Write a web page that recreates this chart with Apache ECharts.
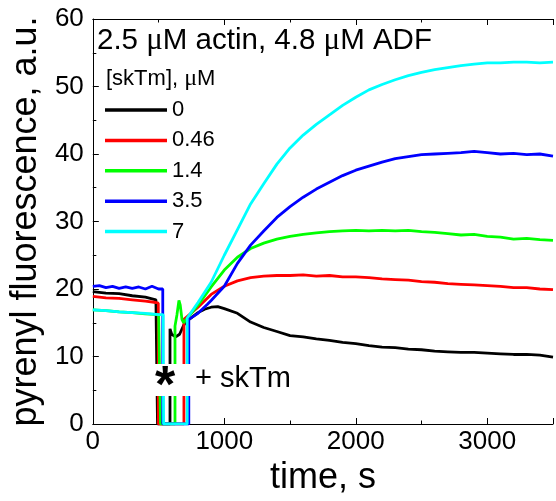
<!DOCTYPE html>
<html>
<head>
<meta charset="utf-8">
<script src="https://cdn.jsdelivr.net/npm/echarts@6/dist/echarts.min.js"></script>
<style>html,body{margin:0;padding:0;background:#fff;}#c{width:556px;height:501px;}</style>
</head>
<body>
<div id="c"></div>
<script>
// legend labels
const seriesNames = ['0', '0.46', '1.4', '3.5', '7'];
const seriesColors = ['#000000', '#ff0000', '#00ff00', '#0000ff', '#00ffff'];

// [time (s), fluorescence (a.u.)]
const data0 = [[0,19.6],[100,19.4],[200,19.3],[300,19.0],[400,18.8],[480,18.4],[492,18.3],[492,0],[587,0],[587,14.1],[600,13.3],[630,12.9],[660,13.3],[690,14.6],[720,15.3],[800,16.5],[850,17.0],[900,17.3],[950,17.4],[1000,17.1],[1100,16.4],[1200,15.1],[1300,14.3],[1400,13.7],[1500,13.1],[1600,12.9],[1700,12.6],[1800,12.4],[1900,12.1],[2000,11.9],[2100,11.6],[2200,11.4],[2300,11.3],[2400,11.1],[2500,11.0],[2600,10.8],[2700,10.7],[2800,10.6],[2900,10.6],[3000,10.5],[3100,10.4],[3200,10.3],[3300,10.3],[3400,10.2],[3500,9.9]];
const data046 = [[0,18.9],[100,18.7],[200,18.6],[300,18.4],[400,18.2],[480,18.0],[498,17.9],[498,0],[693,0],[693,15.5],[700,15.6],[800,17.3],[900,19.2],[1000,20.4],[1100,21.2],[1200,21.7],[1300,21.9],[1400,22.0],[1500,22.0],[1600,22.1],[1700,21.9],[1800,22.0],[1900,21.8],[2000,21.8],[2100,21.7],[2200,21.5],[2300,21.4],[2400,21.3],[2500,21.1],[2600,21.0],[2700,20.8],[2800,20.7],[2900,20.6],[3000,20.5],[3100,20.4],[3200,20.2],[3300,20.2],[3400,20.0],[3500,19.9]];
const data14 = [[0,16.9],[100,16.8],[200,16.6],[300,16.5],[400,16.3],[500,16.2],[515,16.1],[515,0],[625,0],[625,14.5],[640,16.2],[655,18.3],[665,17.6],[678,15.5],[690,15.0],[700,15.2],[800,17.6],[900,20.3],[1000,22.8],[1100,24.7],[1200,26.0],[1300,26.8],[1400,27.4],[1500,27.8],[1600,28.1],[1700,28.3],[1800,28.5],[1900,28.6],[2000,28.7],[2100,28.6],[2200,28.7],[2300,28.6],[2400,28.7],[2500,28.5],[2600,28.4],[2700,28.2],[2800,28.0],[2900,28.1],[3000,27.8],[3100,27.7],[3200,27.4],[3300,27.5],[3400,27.3],[3500,27.2]];
const data35 = [[0,20.4],[50,20.5],[100,20.2],[150,20.4],[200,20.1],[250,20.3],[300,20.1],[350,20.3],[400,20.0],[450,20.4],[500,20.0],[532,20.0],[532,0],[730,0],[730,15.5],[800,16.4],[870,17.7],[900,18.3],[1000,20.4],[1100,23.8],[1200,26.5],[1300,28.6],[1400,30.6],[1500,32.2],[1600,33.6],[1700,34.8],[1800,35.8],[1900,36.8],[2000,37.6],[2100,38.2],[2200,38.8],[2300,39.3],[2400,39.6],[2500,39.9],[2600,40.0],[2700,40.1],[2800,40.2],[2900,40.4],[3000,40.2],[3100,40.0],[3200,40.1],[3300,39.9],[3400,40.0],[3500,39.7]];
const data7 = [[0,16.9],[100,16.8],[200,16.6],[300,16.5],[400,16.4],[500,16.2],[535,16.2],[538,0],[718,0],[718,15.7],[800,18.0],[900,21.0],[1000,25.0],[1100,28.8],[1200,32.6],[1300,35.6],[1400,38.5],[1500,40.9],[1600,42.8],[1700,44.4],[1800,45.8],[1900,47.2],[2000,48.4],[2100,49.5],[2200,50.3],[2300,51.0],[2400,51.6],[2500,52.1],[2600,52.5],[2700,52.8],[2800,53.1],[2900,53.3],[3000,53.5],[3100,53.5],[3200,53.6],[3300,53.6],[3400,53.5],[3500,53.6]];
const allData = [data0, data046, data14, data35, data7];

const xTicks = [0, 1000, 2000, 3000];

const FONT = '"Liberation Sans", Arial, sans-serif';
const chart = echarts.init(document.getElementById('c'), null, {renderer: 'canvas'});

const axisCommon = {
  axisLine: {show: true, lineStyle: {color: '#000', width: 1}},
  axisTick: {show: true, inside: true, length: 6, lineStyle: {color: '#000'}},
  minorTick: {show: true, splitNumber: 2, length: 3.5, lineStyle: {color: '#000'}},
  splitLine: {show: false}
};

const nStyle = (fs) => ({fontFamily: FONT, fontSize: fs, fontWeight: 'normal', color: '#000'});
const mStyle = (fs) => ({fontFamily: '"Liberation Serif", serif', fontSize: fs, fontWeight: 'normal', color: '#000'});

chart.setOption({
  animation: false,
  backgroundColor: '#fff',
  title: [
    {text: '{n|2.5 }{m|μ}{n|M actin, 4.8 }{m|μ}{n|M ADF}', left: 97, top: 25, padding: 0,
     textStyle: {fontWeight: 'normal', rich: {n: nStyle(29.5), m: mStyle(31)}}},
    {text: '{n|[skTm], }{m|μ}{n|M}', left: 106, top: 67, padding: 0,
     textStyle: {fontWeight: 'normal', rich: {n: nStyle(22), m: mStyle(24)}}}
  ],
  legend: {
    orient: 'vertical', left: 105, top: 99, padding: 0,
    icon: 'rect', itemWidth: 62, itemHeight: 3.5, itemGap: 8.4,
    textStyle: {fontFamily: FONT, fontSize: 22, color: '#000'},
    data: seriesNames
  },
  grid: {left: 91, top: 19, right: -2, bottom: 74, containLabel: false},
  xAxis: [
    Object.assign({}, axisCommon, {
      type: 'value', min: 0, max: 3500, interval: 1000, position: 'bottom',
      axisLabel: {fontFamily: FONT, fontSize: 26, color: '#000', margin: 5,
        formatter: v => xTicks.includes(v) ? String(v) : ''},
      name: 'time, s', nameLocation: 'middle', nameGap: 36,
      nameTextStyle: {fontFamily: FONT, fontSize: 36, color: '#000'}
    }),
    Object.assign({}, axisCommon, {
      type: 'value', min: 0, max: 3500, interval: 1000, position: 'top',
      axisLabel: {show: false}
    })
  ],
  yAxis: [
    Object.assign({}, axisCommon, {
      type: 'value', min: 0, max: 60, interval: 10, position: 'left',
      axisLabel: {fontFamily: FONT, fontSize: 26, color: '#000', margin: 9},
      name: 'pyrenyl fluorescence, a.u.', nameLocation: 'middle', nameGap: 45,
      nameTextStyle: {fontFamily: FONT, fontSize: 36, color: '#000'}
    })
  ],
  series: seriesNames.map((n, i) => ({
    name: n, type: 'line', xAxisIndex: 0, yAxisIndex: 0,
    data: allData[i], symbol: 'none', showSymbol: false,
    lineStyle: {color: seriesColors[i], width: 2.8},
    itemStyle: {color: seriesColors[i]},
    z: 2 + i
  })),
  graphic: [
    {type: 'rect', left: 155, top: 364, shape: {width: 145, height: 32}, style: {fill: '#fff'}, z: 100},
    {type: 'text', left: 155, top: 362, z: 101,
     style: {text: '*', font: 'bold 52px ' + FONT, fill: '#000'}},
    {type: 'text', left: 195, top: 364, z: 101,
     style: {text: '+ skTm', font: '29px ' + FONT, fill: '#000'}}
  ]
});
</script>
</body>
</html>
